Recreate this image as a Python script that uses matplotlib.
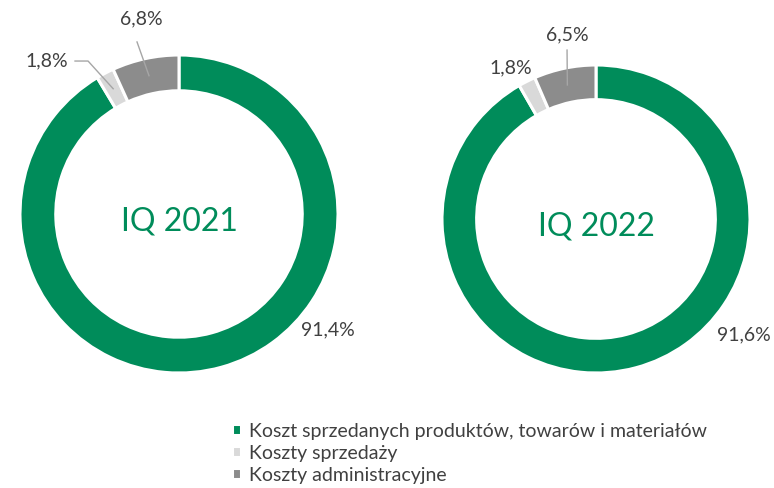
import numpy as np
import matplotlib
matplotlib.use('Agg')
import matplotlib.pyplot as plt

# ====== dane ======
categories = ['Koszt sprzedanych produktów, towarów i materiałów',
              'Koszty sprzedaży',
              'Koszty administracyjne']
periods = ['IQ 2021', 'IQ 2022']
share_2021 = [91.4, 1.8, 6.8]
share_2022 = [91.6, 1.8, 6.5]
colors = ['#008C5A', '#D9D9D9', '#8C8C8C']

plt.rcParams['font.family'] = ['Lato', 'DejaVu Sans']
TXT = '#404040'
LEAD = '#A6A6A6'

W, H = 774, 488
fig = plt.figure(figsize=(W/100, H/100), dpi=100)

def fmt(v):
    return f'{v:.1f}%'.replace('.', ',')

def donut(cx, cy, R, vals, title, lbl_pos):
    # cx, cy, R w pikselach (cy od góry)
    ax = fig.add_axes([(cx-R)/W, (H-cy-R)/H, 2*R/W, 2*R/H])
    wedges, _ = ax.pie(vals, colors=colors, startangle=90, counterclock=False,
                       radius=1.0, wedgeprops=dict(width=0.225, edgecolor='white', linewidth=2.2))
    ax.set_xlim(-1, 1); ax.set_ylim(-1, 1)
    ax.set_aspect('equal'); ax.axis('off')
    ax.text(0, -0.05, title, ha='center', va='center', fontsize=23, color='#008C5A')
    # kąty środkowe wycinków
    ang = 90 - np.cumsum([0] + list(vals[:-1])) * 3.6 - np.array(vals) * 1.8
    for i, v in enumerate(vals):
        tx, ty, path = lbl_pos[i]
        ax.text(tx, ty, fmt(v), ha='center', va='center', fontsize=14, color=TXT, clip_on=False)
        if path is not None:
            a = np.deg2rad(ang[i])
            px, py = 0.89*np.cos(a), 0.89*np.sin(a)
            xs = [p[0] for p in path] + [px]
            ys = [p[1] for p in path] + [py]
            ax.plot(xs, ys, color=LEAD, lw=1.0, clip_on=False, zorder=5)
    return wedges

w1 = donut(179, 214, 159, share_2021, periods[0],
           [(0.937, -0.73, None),
            (-0.83, 0.962, [(-0.654, 0.962), (-0.572, 0.962)]),
            (-0.24, 1.226, [(-0.264, 1.082)])])
w2 = donut(596, 219, 154, share_2022, periods[1],
           [(0.961, -0.753, None),
            (-0.552, 0.981, None),
            (-0.188, 1.195, [(-0.188, 1.097)])])

fig.legend(w1, categories, loc='upper left', bbox_to_anchor=(222/W, 1-413/H),
           frameon=False, fontsize=14, labelcolor=TXT,
           handlelength=0.5, handleheight=0.5, handletextpad=0.4,
           labelspacing=0.26, borderpad=0)

fig.savefig('out.png', dpi=100)
